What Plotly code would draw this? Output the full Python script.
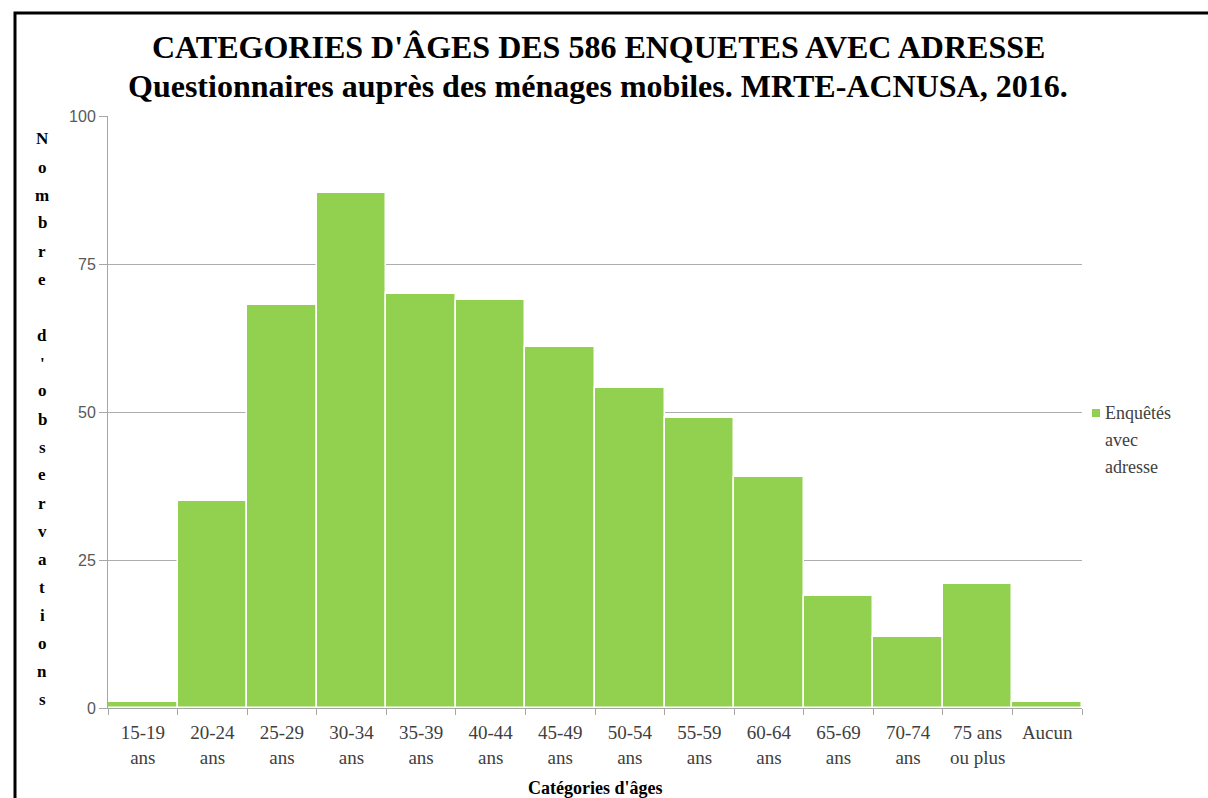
import plotly.graph_objects as go

categories = ["15-19<br>ans", "20-24<br>ans", "25-29<br>ans", "30-34<br>ans", "35-39<br>ans",
              "40-44<br>ans", "45-49<br>ans", "50-54<br>ans", "55-59<br>ans", "60-64<br>ans",
              "65-69<br>ans", "70-74<br>ans", "75 ans<br>ou plus", "Aucun"]
counts = [1, 35, 68, 87, 70, 69, 61, 54, 49, 39, 19, 12, 21, 1]
y_ticks = [0, 25, 50, 75, 100]
series_lines = ["Enquêtés", "avec", "adresse"]
title_lines = ["CATEGORIES D'ÂGES DES 586 ENQUETES AVEC ADRESSE",
               "Questionnaires auprès des ménages mobiles. MRTE-ACNUSA, 2016."]
y_title = "Nombre d'observations"
x_title = "Catégories d'âges"

W, H = 1208, 798
L, R, T, B = 108, 126, 116, 90
PW, PH = W - L - R, H - T - B
GREEN = "#92D050"

def px_x(p):
    return (p - L) / PW

def px_y(p):
    return (H - B - p) / PH

serif = "Liberation Serif, Times New Roman, serif"

fig = go.Figure()
fig.add_trace(go.Bar(
    x=categories, y=counts, name=" ".join(series_lines),
    marker=dict(color=GREEN, line=dict(color="#FFFFFF", width=1.5)),
    showlegend=False,
))

annotations = []
# Title (two lines)
for text, py in zip(title_lines, [47, 86]):
    annotations.append(dict(text="<b>" + text + "</b>", xref="paper", yref="paper",
                            x=px_x(598), y=px_y(py), xanchor="center", yanchor="middle",
                            showarrow=False, font=dict(family=serif, size=32, color="#000000")))

# Vertical stacked y-axis title, one character per line
chars = list(y_title)
n = len(chars)
top_py, bot_py = 139, 699
for i, ch in enumerate(chars):
    if ch == " ":
        continue
    py = top_py + (bot_py - top_py) * i / (n - 1)
    annotations.append(dict(text="<b>" + ch + "</b>", xref="paper", yref="paper",
                            x=px_x(42), y=px_y(py), xanchor="center", yanchor="middle",
                            showarrow=False, font=dict(family=serif, size=17, color="#000000")))

# X-axis title
annotations.append(dict(text="<b>" + x_title + "</b>", xref="paper", yref="paper",
                        x=px_x(595), y=px_y(788), xanchor="center", yanchor="middle",
                        showarrow=False, font=dict(family=serif, size=18, color="#000000")))

# Legend entry: swatch + label
for i, line in enumerate(series_lines):
    annotations.append(dict(text=line, xref="paper", yref="paper",
                            x=px_x(1103), y=px_y(413 + 27 * i), xanchor="left", yanchor="middle",
                            showarrow=False, font=dict(family=serif, size=18, color="#404040")))

fig.update_layout(
    width=W, height=H,
    margin=dict(l=L, r=R, t=T, b=B),
    paper_bgcolor="#FFFFFF", plot_bgcolor="#FFFFFF",
    bargap=0,
    annotations=annotations,
    shapes=[
        dict(type="rect", xref="paper", yref="paper",
             x0=px_x(1092), x1=px_x(1100), y0=px_y(417), y1=px_y(409),
             line=dict(width=0), fillcolor=GREEN),
        dict(type="rect", xref="paper", yref="paper",
             x0=px_x(15), x1=px_x(1215), y0=px_y(805), y1=px_y(13),
             line=dict(color="#000000", width=3), fillcolor="rgba(0,0,0,0)", layer="above"),
    ],
)

fig.update_xaxes(
    showline=True, linecolor="#A6A6A6", linewidth=1,
    ticks="outside", tickson="boundaries", ticklen=6, tickcolor="#A6A6A6",
    tickfont=dict(family=serif, size=19, color="#404040"),
    ticklabelstandoff=7,
    showgrid=False,
)
fig.update_yaxes(
    range=[0, 100], tickvals=y_ticks,
    showline=True, linecolor="#A6A6A6", linewidth=1,
    ticks="outside", ticklen=8, tickcolor="#A6A6A6",
    tickfont=dict(family="Liberation Sans, Arial, sans-serif", size=16, color="#595959"),
    showgrid=True, gridcolor="#ADADAD", gridwidth=1, zeroline=False,
)

fig.write_html("out.html")
